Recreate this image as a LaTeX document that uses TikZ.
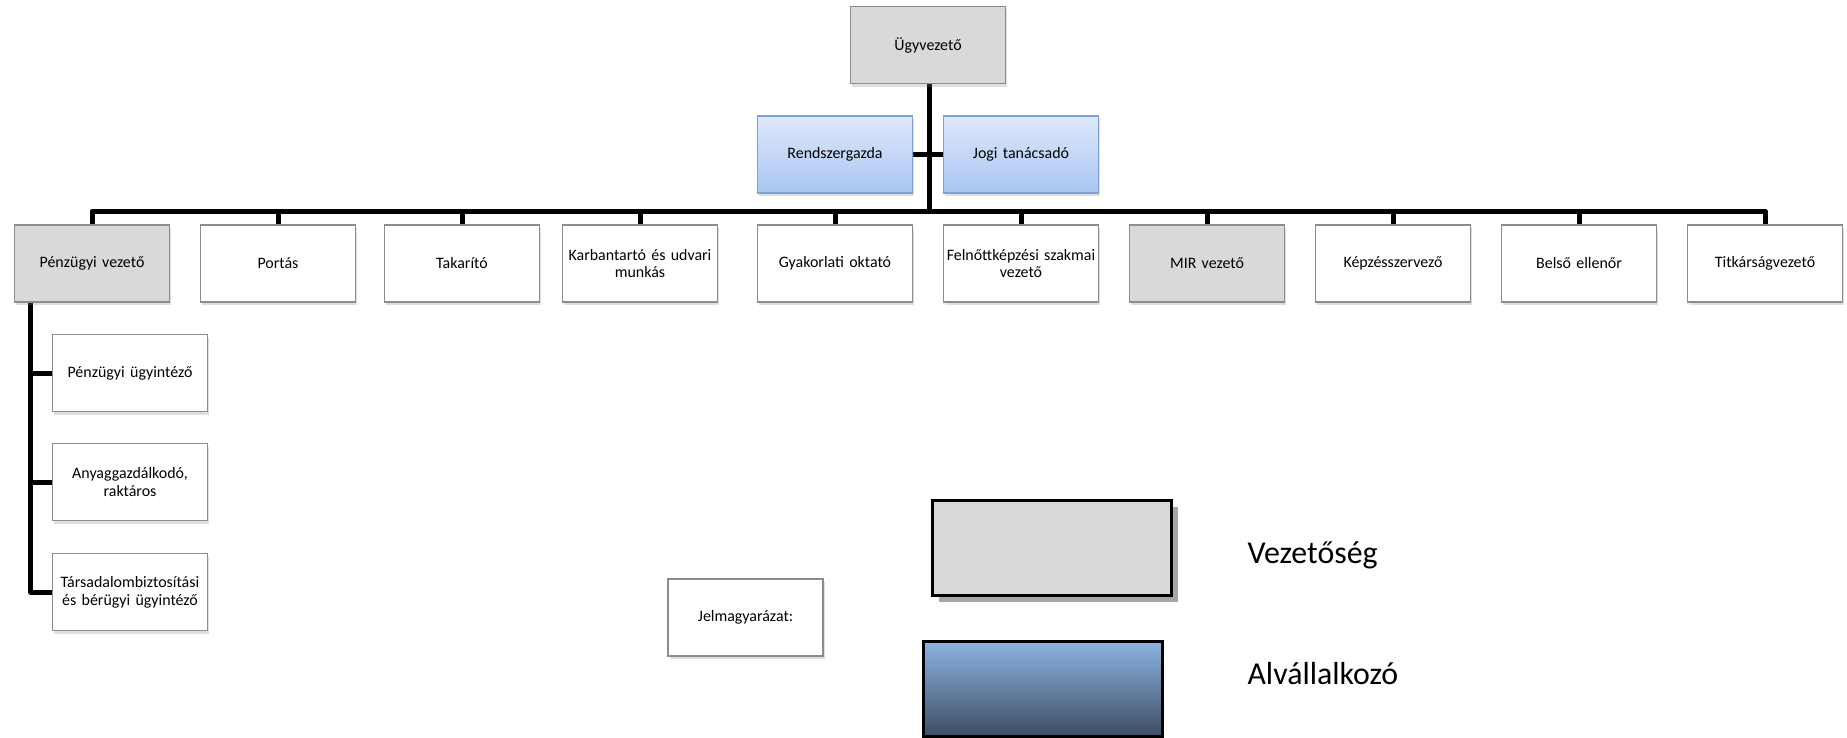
\documentclass[tikz,border=0pt]{standalone}
\usepackage{fontspec}
\setmainfont{Carlito}
\usetikzlibrary{shapes,backgrounds,shadows,calc,positioning}

\definecolor{vezgray}{HTML}{D9D9D9}
\definecolor{boxline}{HTML}{8C8C8C}
\definecolor{altop}{HTML}{DEE9FA}
\definecolor{albot}{HTML}{A8C6F2}
\definecolor{alline}{HTML}{7DA2D6}
\definecolor{legtop}{HTML}{8DB4E2}
\definecolor{legbot}{HTML}{3E4E66}

\begin{document}
\begin{tikzpicture}[x=1bp,y=-1bp,
    conn/.style={line width=5bp,line join=round},
    base box/.style={rectangle,draw=boxline,line width=1.2bp,minimum width=155bp,
      minimum height=77bp,text width=151bp,inner sep=2bp,align=center,
      font=\fontsize{16}{18}\selectfont,
      drop shadow={shadow xshift=1.5bp,shadow yshift=-3bp,opacity=0.25}},
    white box/.style={base box,fill=white},
    lead box/.style={base box,fill=vezgray},
    contract box/.style={base box,draw=alline,top color=altop,bottom color=albot},
    legend box/.style={rectangle,draw=black,line width=3bp,minimum width=239bp,
      minimum height=95bp,inner sep=0pt},
    legend text/.style={anchor=base west,font=\fontsize{32}{36}\selectfont}]
  \useasboundingbox (0,0) rectangle (1847,738);

  % top
  \node[lead box] (ugy) at (928,45) {Ügyvezető};
  \node[contract box] (rend) at (835,154.5) {Rendszergazda};
  \node[contract box] (jogi) at (1021,154.5) {Jogi tanácsadó};

  % second row
  \node[lead box] (pv) at (92,263.5) {Pénzügyi vezető};
  \node[white box] (port) [right=29.8bp of pv] {Portás};
  \node[white box] (tak) [right=27.8bp of port] {Takarító};
  \node[white box] (karb) [right=21.8bp of tak] {Karbantartó és udvari\\munkás};
  \node[white box] (gyak) [right=38.8bp of karb] {Gyakorlati oktató};
  \node[white box] (felt) [right=29.8bp of gyak] {Felnőttképzési szakmai\\vezető};
  \node[lead box] (mir) [right=29.8bp of felt] {MIR vezető};
  \node[white box] (kepz) [right=29.8bp of mir] {Képzésszervező};
  \node[white box] (bels) [right=29.8bp of kepz] {Belső ellenőr};
  \node[white box] (titk) [right=29.8bp of bels] {Titkárságvezető};

  % under the finance lead
  \node[white box] (pu) at (130,373) {Pénzügyi ügyintéző};
  \node[white box] (anyag) at (130,482) {Anyaggazdálkodó,\\raktáros};
  \node[white box] (tb) at (130,592) {Társadalombiztosítási\\és bérügyi ügyintéző};

  % legend
  \node[white box] (jel) at (745.5,617.5) {Jelmagyarázat:};
  \node[legend box,fill=vezgray,
    drop shadow={shadow xshift=6bp,shadow yshift=-6bp,fill=black!35,opacity=1}]
    (legvez) at (1052,548) {};
  \node[legend box,top color=legtop,bottom color=legbot] (legal) at (1042.5,688.5) {};
  \node[legend text] (vezlab) at (1244,563) {Vezetőség};
  \node[legend text] (allab) at (1244,684) {Alvállalkozó};

  \begin{pgfonlayer}{background}
    \fill[white] (0,0) rectangle (1847,738);
    \coordinate (bus) at (929,211);
    \coordinate (pvline) at ($(pv.south west)+(17,0)$);
    \draw[conn] (ugy.south -| bus) -- (bus);
    \draw[conn] (rend.east) -- (jogi.west);
    \draw[conn] (pv.north) |- (bus) -| (titk.north);
    \foreach \n in {port,tak,karb,gyak,felt,mir,kepz,bels}
      \draw[conn] (\n.north) -- (\n.north |- bus);
    \draw[conn] (pvline) |- (tb.west);
    \draw[conn] (pvline |- pu.west) -- (pu.west);
    \draw[conn] (pvline |- anyag.west) -- (anyag.west);
  \end{pgfonlayer}
\end{tikzpicture}
\end{document}
